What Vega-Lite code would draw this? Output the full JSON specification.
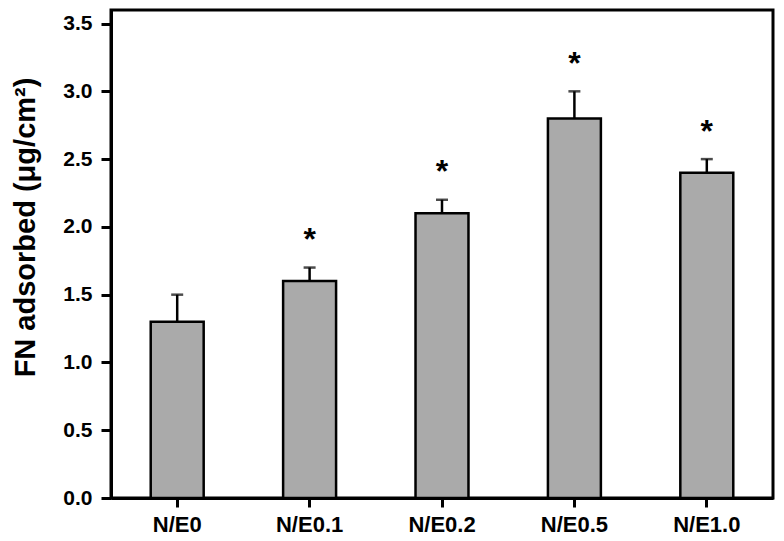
{
  "$schema": "https://vega.github.io/schema/vega-lite/v6.json",
  "width": 662,
  "height": 488,
  "autosize": {"type": "none"},
  "padding": {"left": 111, "top": 10, "right": 11, "bottom": 43},
  "background": "white",
  "config": {
    "view": {"stroke": "black", "strokeWidth": 3},
    "font": "Liberation Sans"
  },
  "data": {
    "values": [
      {"group": "N/E0", "value": 1.3, "err": 1.5, "star": null},
      {"group": "N/E0.1", "value": 1.6, "err": 1.7, "star": 1.94},
      {"group": "N/E0.2", "value": 2.1, "err": 2.2, "star": 2.44},
      {"group": "N/E0.5", "value": 2.8, "err": 3.0, "star": 3.24},
      {"group": "N/E1.0", "value": 2.4, "err": 2.5, "star": 2.74}
    ]
  },
  "encoding": {
    "x": {
      "field": "group",
      "type": "nominal",
      "sort": null,
      "scale": {"paddingInner": 0.6, "paddingOuter": 0.3},
      "axis": {
        "title": null,
        "labelAngle": 0,
        "labelFont": "Liberation Sans",
        "labelFontWeight": "bold",
        "labelFontSize": 22,
        "labelColor": "black",
        "labelPadding": 7,
        "tickSize": 9,
        "tickWidth": 3,
        "tickColor": "black",
        "domainColor": "black",
        "domainWidth": 3
      }
    }
  },
  "layer": [
    {
      "mark": {"type": "rule", "color": "black", "strokeWidth": 2.5},
      "encoding": {
        "y": {"field": "value", "type": "quantitative"},
        "y2": {"field": "err"}
      }
    },
    {
      "mark": {"type": "tick", "color": "black", "size": 12, "thickness": 2.5},
      "encoding": {
        "y": {"field": "err", "type": "quantitative"}
      }
    },
    {
      "mark": {"type": "bar", "fill": "#aaaaaa", "stroke": "black", "strokeWidth": 2.5},
      "encoding": {
        "y": {
          "field": "value",
          "type": "quantitative",
          "scale": {"domain": [0, 3.6], "nice": false},
          "axis": {
            "title": "FN adsorbed (μg/cm²)",
            "titleFont": "Liberation Sans",
            "titleFontWeight": "bold",
            "titleFontSize": 29,
            "titleColor": "black",
            "titleAngle": 270,
            "titleAlign": "center",
            "titleBaseline": "middle",
            "titleX": -86,
            "titleY": 217,
            "values": [0, 0.25, 0.5, 0.75, 1, 1.25, 1.5, 1.75, 2, 2.25, 2.5, 2.75, 3, 3.25, 3.5],
            "labelExpr": "(round(datum.value * 2) == datum.value * 2) ? format(datum.value, '.1f') : ''",
            "labelFont": "Liberation Sans",
            "labelFontWeight": "bold",
            "labelFontSize": 21,
            "labelColor": "black",
            "labelPadding": 9,
            "tickSize": {"condition": {"test": "round(datum.value * 2) == datum.value * 2", "value": 10}, "value": 5},
            "tickWidth": 3,
            "tickColor": "black",
            "domainColor": "black",
            "domainWidth": 3,
            "grid": false
          }
        }
      }
    },
    {
      "mark": {"type": "text", "text": "*", "fontSize": 32, "fontWeight": "bold", "color": "black", "baseline": "alphabetic", "dy": 15},
      "encoding": {
        "y": {"field": "star", "type": "quantitative"}
      }
    }
  ]
}
